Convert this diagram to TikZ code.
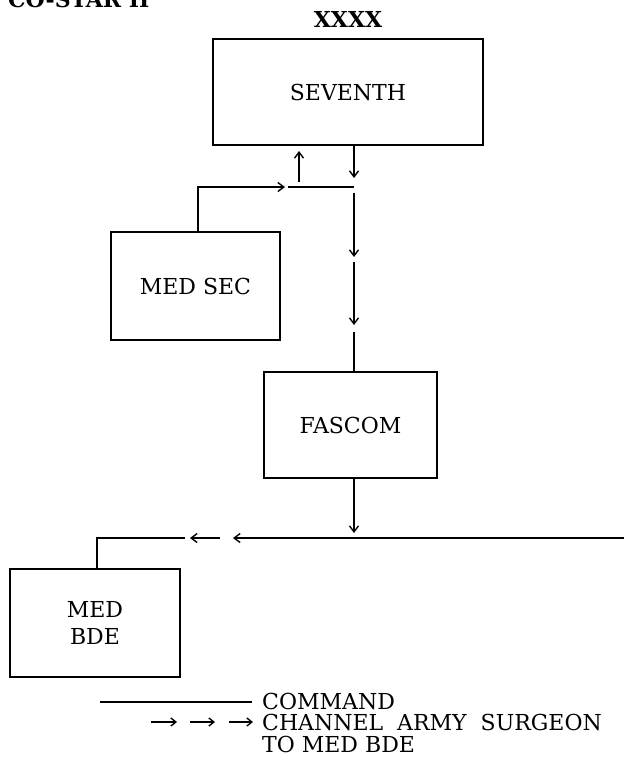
\documentclass[tikz,border=0pt]{standalone}
\usepackage{fontspec}
\setmainfont{DejaVu Serif}
\usetikzlibrary{arrows.meta}
\newcommand{\FL}{\fontsize{22}{26}\selectfont}

\begin{document}
\begin{tikzpicture}[x=1pt,y=-1pt,>={Straight Barb[length=6pt,width=9pt]}]
\tikzstyle{box}=[draw,black,line width=2.8pt,inner sep=0pt,font=\FL,align=center]
\tikzstyle{texto}=[draw=none,fill=none,black,font=\FL,inner sep=0pt]
\tikzstyle{line}=[black,line width=1.4pt]

\useasboundingbox (0,0) rectangle (624,758);
\clip (0,0) rectangle (624,758);

\node[texto,font=\FL\bfseries,anchor=base west] (title) at (8,7) {CO-STAR II};
\node[texto,font=\FL\bfseries] (xxxx) at (348,19) {XXXX};

\node[box,minimum width=270pt,minimum height=106pt] (seventh) at (348,92) {SEVENTH};
\node[box,minimum width=169pt,minimum height=108pt] (medsec) at (195.5,286) {MED SEC};
\node[box,minimum width=173pt,minimum height=106pt] (fascom) at (350.5,425) {FASCOM};
\node[box,minimum width=170pt,minimum height=108pt] (medbde) at (95,623) {MED\\[1pt]BDE};

% junction under SEVENTH
\coordinate (up1) at (299,182);
\coordinate (up2) at (299,151);
\coordinate (dn1) at (354,178);
\coordinate (jl) at (288,187);
\coordinate (jr) at (354,187);
\coordinate (ms1) at (198,187);
\coordinate (ms2) at (285,187);
\draw[line,->] (up1) -- (up2);
\draw[line,->] (seventh.south -| dn1) -- (dn1);
\draw[line] (jl) -- (jr);
\draw[line,->] (medsec.north -| ms1) -- (ms1) -- (ms2);

% channel down to FASCOM
\coordinate (v1) at (354,193);
\coordinate (v2) at (354,257);
\coordinate (v3) at (354,262);
\coordinate (v4) at (354,325);
\coordinate (v5) at (354,332);
\draw[line,->] (v1) -- (v2);
\draw[line,->] (v3) -- (v4);
\draw[line] (v5) -- (fascom.north -| v5);

% FASCOM to MED BDE
\coordinate (f1) at (354,533);
\coordinate (h0) at (624,538);
\coordinate (h1) at (233,538);
\coordinate (h2) at (220,538);
\coordinate (h3) at (190,538);
\coordinate (h4) at (185,538);
\coordinate (h5) at (97,538);
\draw[line,->] (fascom.south -| f1) -- (f1);
\draw[line,->] (h0) -- (h1);
\draw[line,->] (h2) -- (h3);
\draw[line] (h4) -- (h5) -- (medbde.north -| h5);

% legend
\coordinate (c1) at (100,702);
\coordinate (c2) at (252,702);
\draw[line] (c1) -- (c2);
\node[texto,anchor=west] (command) at (262,701) {COMMAND};
\foreach \xa/\xb in {151/177,190/215,229/253}
  \draw[line,->,>={Straight Barb[length=5pt,width=8pt]}] (\xa,722) -- (\xb,722);
\node[texto,anchor=west] (channel) at (262,722) {CHANNEL\ \ ARMY\ \ SURGEON};
\node[texto,anchor=west] (tomed) at (262,744) {TO\ MED\ BDE};
\end{tikzpicture}
\end{document}
